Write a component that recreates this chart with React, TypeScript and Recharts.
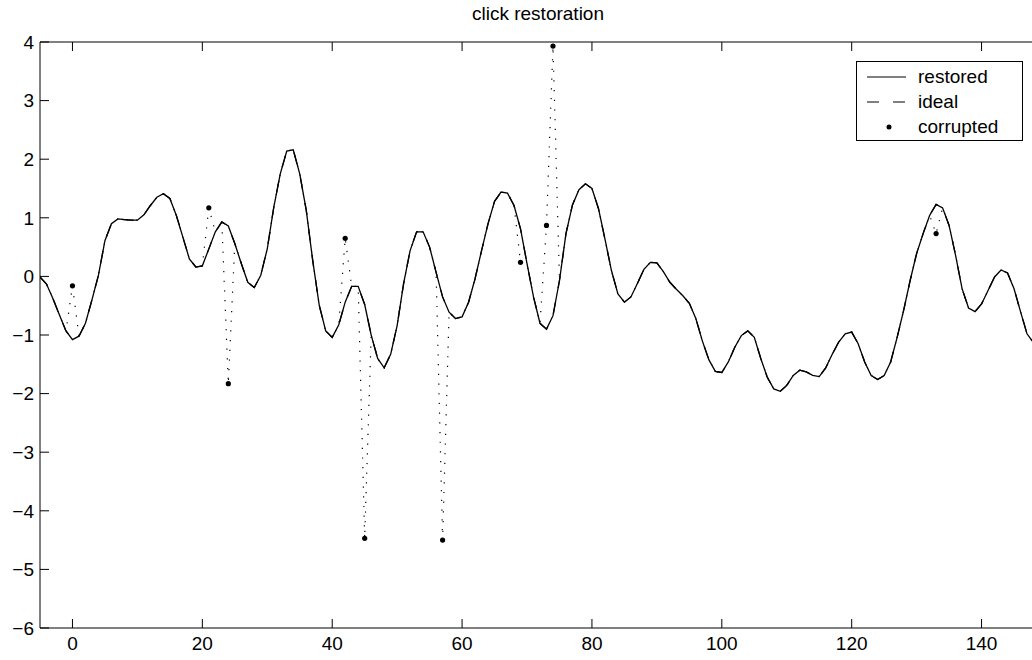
import { ComposedChart, Line, Scatter, XAxis, YAxis } from 'recharts';

// sample index of the first value in SIGNAL
const START_X = -5;

// restored / ideal signal, one value per sample from x = -5 to x = 149
const SIGNAL = [
  -0.01, -0.13, -0.38, -0.66, -0.93,
  -1.08, -1.02, -0.8, -0.4, 0.02, 0.61, 0.9, 0.98, 0.97, 0.96,
  0.96, 1.05, 1.21, 1.35, 1.41, 1.33, 1.04, 0.67, 0.3, 0.16,
  0.18, 0.47, 0.76, 0.93, 0.86, 0.56, 0.22, -0.1, -0.19, 0.02,
  0.47, 1.18, 1.75, 2.14, 2.16, 1.75, 1.13, 0.27, -0.49, -0.93,
  -1.04, -0.83, -0.44, -0.17, -0.17, -0.48, -1.0, -1.4, -1.56, -1.33,
  -0.84, -0.12, 0.44, 0.76, 0.76, 0.5, 0.07, -0.35, -0.61, -0.72,
  -0.69, -0.44, -0.04, 0.44, 0.9, 1.28, 1.44, 1.42, 1.21, 0.81,
  0.22, -0.35, -0.8, -0.9, -0.67, -0.07, 0.73, 1.22, 1.48, 1.58,
  1.5, 1.16, 0.64, 0.1, -0.3, -0.44, -0.35, -0.12, 0.12, 0.24,
  0.23, 0.08, -0.1, -0.22, -0.33, -0.46, -0.72, -1.1, -1.42, -1.62,
  -1.64, -1.46, -1.21, -1.01, -0.93, -1.04, -1.4, -1.72, -1.92, -1.96,
  -1.86, -1.69, -1.6, -1.63, -1.69, -1.71, -1.56, -1.33, -1.12, -0.98,
  -0.95, -1.15, -1.46, -1.69, -1.76, -1.69, -1.46, -1.04, -0.58, -0.07,
  0.39, 0.73, 1.04, 1.23, 1.17, 0.87, 0.36, -0.21, -0.54, -0.6,
  -0.47, -0.24, -0.01, 0.11, 0.06, -0.21, -0.6, -0.98, -1.13, -1.18,
];

// clicked samples and their corrupted values
const CLICK_X = [0, 21, 24, 42, 45, 57, 69, 73, 74, 133];
const CLICK_Y = [-0.16, 1.17, -1.83, 0.65, -4.47, -4.5, 0.24, 0.87, 3.93, 0.73];

const X_TICKS = [0, 20, 40, 60, 80, 100, 120, 140];
const Y_TICKS = [-6, -5, -4, -3, -2, -1, 0, 1, 2, 3, 4];

const FONT = '"Liberation Sans", Arial, Helvetica, sans-serif';
const FS = 19;

const data = SIGNAL.map((v, i) => {
  const x = START_X + i;
  const k = CLICK_X.indexOf(x);
  return { x, restored: v, ideal: v, corrupted: k >= 0 ? CLICK_Y[k] : v };
});
const clicks = CLICK_X.map((x, i) => ({ x, y: CLICK_Y[i] }));

const fmt = (v: number) => (v < 0 ? '\u2212' + Math.abs(v) : String(v));

function LegendBox() {
  const row = (y: number) => ({ position: 'absolute' as const, left: 61, top: y - 12, fontSize: FS, lineHeight: '24px' });
  return (
    <div style={{ position: 'absolute', left: 856, top: 61, width: 167, height: 80, border: '1px solid #000', background: '#fff', boxSizing: 'border-box', fontFamily: FONT, color: '#000' }}>
      <svg width={167} height={80} style={{ position: 'absolute', left: 0, top: 0 }}>
        <line x1={10} x2={49} y1={15} y2={15} stroke="#000" strokeWidth={1} />
        <line x1={10} x2={49} y1={40} y2={40} stroke="#000" strokeWidth={1} strokeDasharray="12 14" />
        <circle cx={32} cy={65} r={2.5} fill="#000" />
      </svg>
      <div style={row(15)}>restored</div>
      <div style={row(40)}>ideal</div>
      <div style={row(65)}>corrupted</div>
    </div>
  );
}

export default function App() {
  const tickStyle = { fontSize: FS, fill: '#000', fontFamily: FONT };
  return (
    <div style={{ position: 'absolute', left: 0, top: 0, width: 1032, height: 660, overflow: 'hidden', background: '#fff' }}>
      <div style={{ position: 'absolute', left: 0, top: 3, width: 1076, textAlign: 'center', fontFamily: FONT, fontSize: FS, color: '#000' }}>
        click restoration
      </div>
      <ComposedChart width={1045} height={660} data={data} margin={{ top: 41, right: 0, left: 0, bottom: 0 }}>
        <XAxis dataKey="x" type="number" domain={[-5, 149]} ticks={X_TICKS} allowDataOverflow
          height={32} tickSize={-9} tickMargin={18} tick={tickStyle} stroke="#000" tickLine={{ stroke: '#000' }} />
        <XAxis xAxisId="top" orientation="top" dataKey="x" type="number" domain={[-5, 149]} ticks={X_TICKS}
          height={1} tickSize={-9} tickFormatter={() => ''} stroke="#000" tickLine={{ stroke: '#000' }} />
        <YAxis type="number" domain={[-6, 4]} ticks={Y_TICKS} width={40} tickSize={-9} tickMargin={15}
          tick={tickStyle} tickFormatter={fmt} stroke="#000" tickLine={{ stroke: '#000' }} />
        <YAxis yAxisId="right" orientation="right" type="number" domain={[-6, 4]} ticks={Y_TICKS} width={5}
          tickSize={-9} tickFormatter={() => ''} stroke="#000" tickLine={{ stroke: '#000' }} />
        <Line dataKey="corrupted" type="linear" stroke="#000" strokeWidth={1.2} strokeDasharray="1.2 8.5" dot={false} isAnimationActive={false} />
        <Line dataKey="ideal" type="linear" stroke="#000" strokeWidth={1.3} strokeDasharray="12 14" dot={false} isAnimationActive={false} />
        <Line dataKey="restored" type="linear" stroke="#000" strokeWidth={1.3} dot={false} isAnimationActive={false} />
        <Scatter data={clicks} dataKey="y" fill="#000" shape={(p: any) => <circle cx={p.cx} cy={p.cy} r={2.6} fill="#000" />} isAnimationActive={false} />
      </ComposedChart>
      <LegendBox />
    </div>
  );
}
